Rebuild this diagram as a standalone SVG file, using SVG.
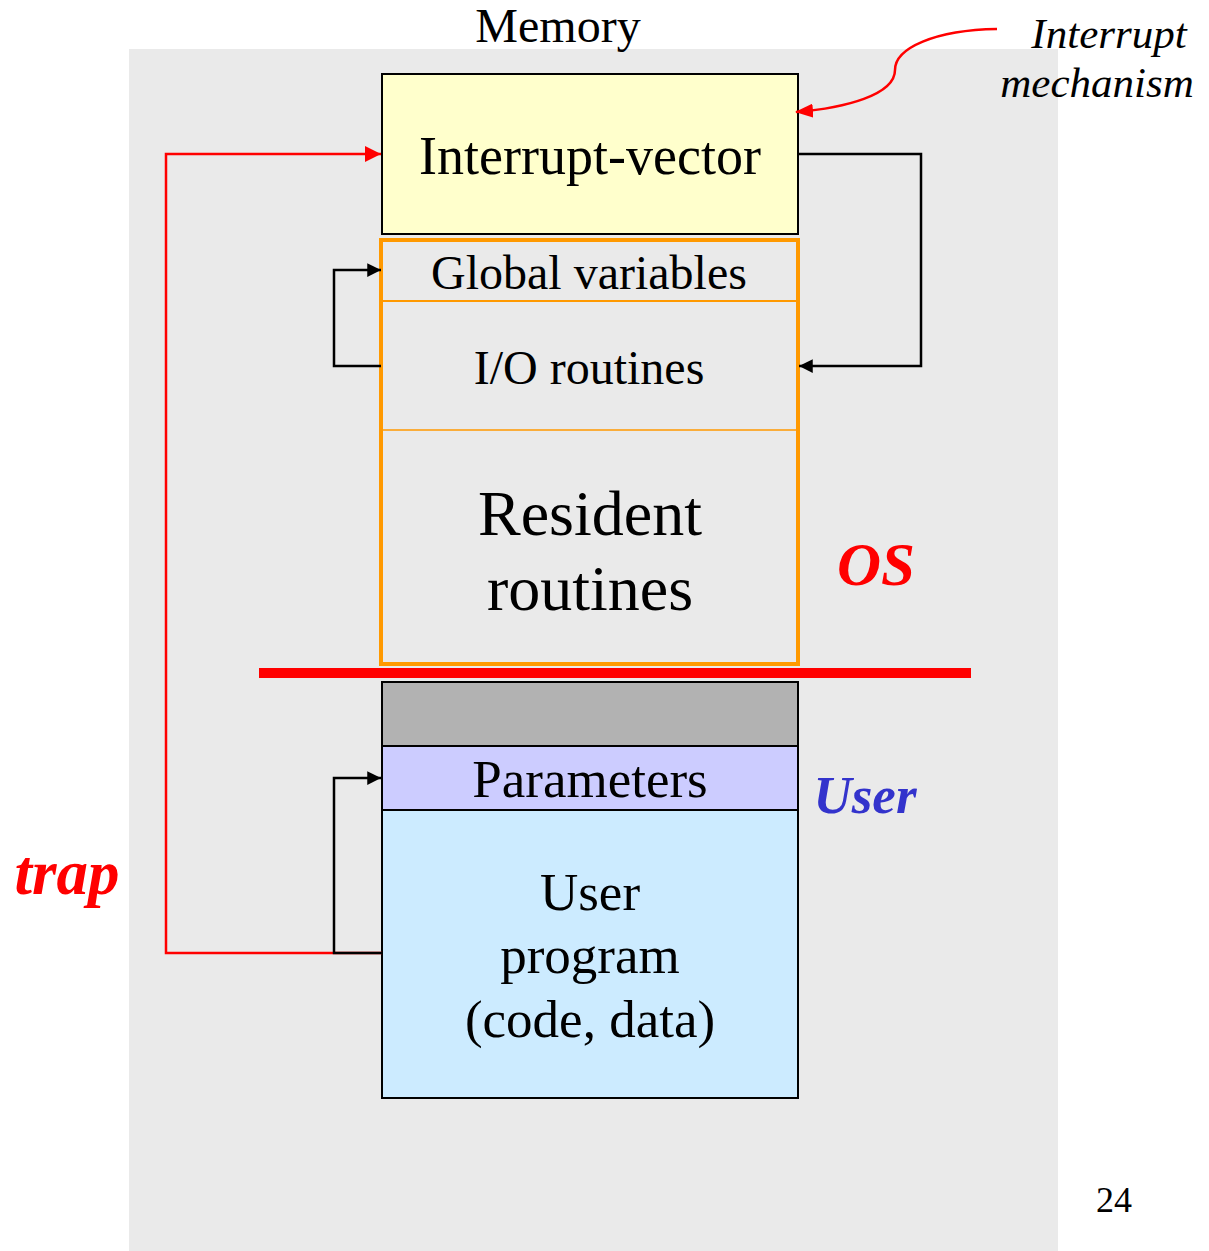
<svg xmlns="http://www.w3.org/2000/svg" width="1209" height="1251" viewBox="0 0 1209 1251">
<defs>
<marker id="ab" viewBox="0 0 10 10" refX="10" refY="5" markerWidth="6" markerHeight="5.5" orient="auto" markerUnits="strokeWidth"><path d="M0,0 L10,5 L0,10 z" fill="#000"/></marker>
<marker id="ar" viewBox="0 0 10 10" refX="10" refY="5" markerWidth="6.5" markerHeight="7" orient="auto" markerUnits="strokeWidth"><path d="M0,0 L10,5 L0,10 z" fill="#FF0000"/></marker>
<marker id="ar2" viewBox="0 0 18 14" refX="17" refY="7" markerWidth="18" markerHeight="14" orient="auto" markerUnits="userSpaceOnUse"><path d="M0,0 L18,7 L0,14 z" fill="#FF0000"/></marker>
<style>
text{font-family:"Liberation Serif","Times New Roman",serif;fill:#000;text-anchor:middle}
.box{stroke:#000;stroke-width:2}
.blk{fill:none;stroke:#000;stroke-width:2.5}
.red{fill:none;stroke:#FF0000;stroke-width:2.5}
.bi{font-weight:bold;font-style:italic}
</style>
</defs>
<rect x="0" y="0" width="1209" height="1251" fill="#fff"/>
<rect x="129" y="49" width="929" height="1202" fill="#EAEAEA"/>
<text x="558" y="42" font-size="48">Memory</text>
<g id="interrupt-vector">
<rect class="box" x="382" y="74" width="416" height="160" fill="#FFFFCC"/>
<text x="590" y="174" font-size="54">Interrupt-vector</text>
</g>
<g id="os-block">
<rect x="381" y="240" width="417" height="424" fill="#EAEAEA" stroke="#FF9900" stroke-width="4"/>
<line x1="383" y1="301" x2="796" y2="301" stroke="#FF9900" stroke-width="2"/>
<line x1="383" y1="430" x2="796" y2="430" stroke="#FF9900" stroke-width="1.5"/>
</g>
<g id="global-variables"><text x="589" y="289" font-size="48">Global variables</text></g>
<g id="io-routines"><text x="589" y="384" font-size="48">I/O routines</text></g>
<g id="resident-routines"><text x="590" y="535" font-size="64">Resident</text><text x="590" y="610" font-size="64">routines</text></g>
<rect x="259" y="668" width="712" height="10" fill="#FF0000"/>
<g id="gray-block"><rect class="box" x="382" y="682" width="416" height="64" fill="#B2B2B2"/></g>
<g id="parameters"><rect class="box" x="382" y="746" width="416" height="64" fill="#CCCCFF"/><text x="590" y="797" font-size="53">Parameters</text></g>
<g id="user-program"><rect class="box" x="382" y="810" width="416" height="288" fill="#CCEBFF"/>
<text x="590" y="910" font-size="53">User</text><text x="590" y="973" font-size="53">program</text><text x="590" y="1037" font-size="53">(code, data)</text></g>
<text class="bi" x="876" y="585" font-size="61" style="fill:#FF0000">OS</text>
<text class="bi" x="865" y="813" font-size="53" style="fill:#3333CC">User</text>
<text class="bi" x="67" y="894" font-size="63" style="fill:#FF0000">trap</text>
<text x="1109" y="48" font-size="43" font-style="italic">Interrupt</text>
<text x="1097" y="97" font-size="43" font-style="italic">mechanism</text>
<text x="1114" y="1212" font-size="36">24</text>
<g id="connectors">
<path class="red" d="M382,953 H166 V154 H381" marker-end="url(#ar)"/>
<path class="blk" d="M382,953 H334 V778 H381" marker-end="url(#ab)"/>
<path class="blk" d="M799,154 H921 V366 H799" marker-end="url(#ab)"/>
<path class="blk" d="M381,366 H334 V270 H381" marker-end="url(#ab)"/>
<path class="red" d="M997,29 C935,30 895,48 895,70 C895,95 845,108 796,112" stroke-width="3" marker-end="url(#ar2)"/>
</g>
</svg>
